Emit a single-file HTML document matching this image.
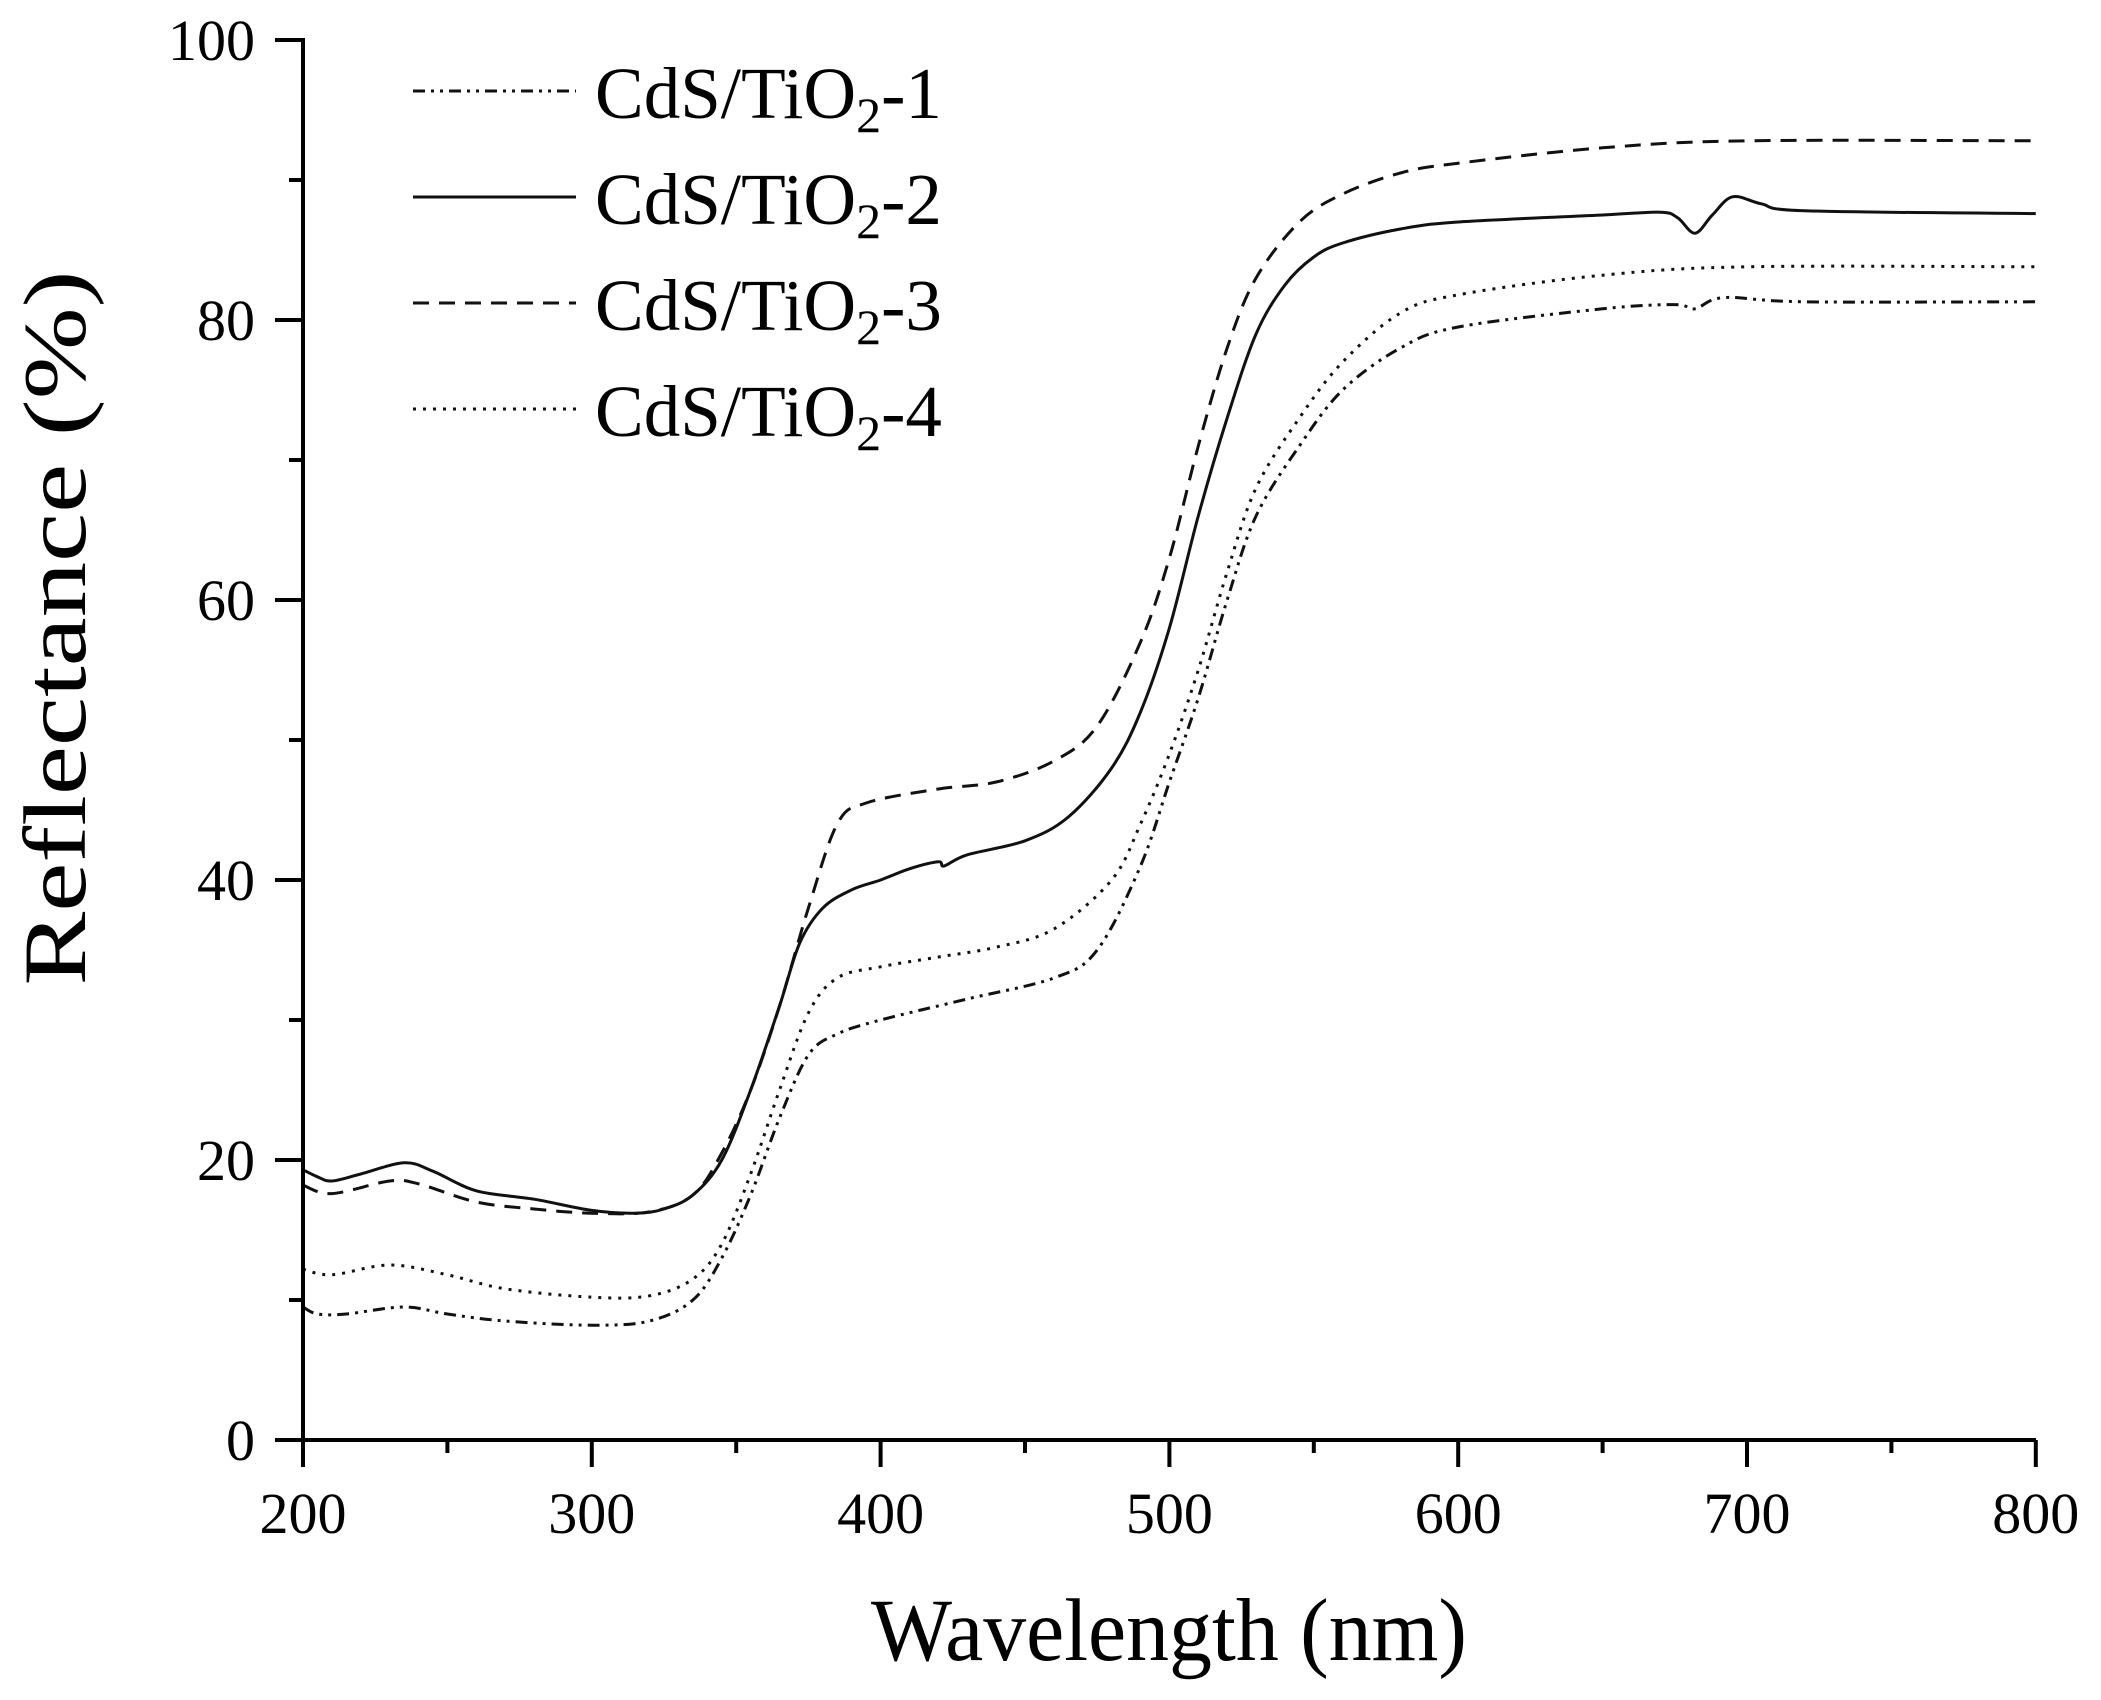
<!DOCTYPE html>
<html><head><meta charset="utf-8"><style>html,body{margin:0;padding:0;background:#fff}svg{display:block}</style></head>
<body>
<svg id="s" width="2101" height="1700" viewBox="0 0 2101 1700" xmlns="http://www.w3.org/2000/svg" font-family="Liberation Serif, serif">
<rect width="2101" height="1700" fill="#fff"/>
<g id="curves" fill="none" stroke="#111" stroke-width="3" stroke-linejoin="round"></g>
<g stroke="#000" stroke-width="4" fill="none">
<line x1="303" y1="38" x2="303" y2="1442"/>
<line x1="288" y1="1440" x2="2036" y2="1440"/>
<g id="ticks"></g>
</g>
<g font-size="58" fill="#000" text-anchor="middle" id="xl"></g>
<g font-size="58" fill="#000" text-anchor="end" id="yl"></g>
<text x="1169" y="1660" font-size="89" text-anchor="middle" textLength="596" lengthAdjust="spacingAndGlyphs">Wavelength (nm)</text>
<text transform="translate(85,628) rotate(-90)" font-size="89" text-anchor="middle" textLength="715" lengthAdjust="spacingAndGlyphs">Reflectance (%)</text>
<g font-size="73" fill="#000">
<text x="595" y="118">CdS/TiO<tspan font-size="50" dy="14">2</tspan><tspan dy="-14">-1</tspan></text>
<text x="595" y="224">CdS/TiO<tspan font-size="50" dy="14">2</tspan><tspan dy="-14">-2</tspan></text>
<text x="595" y="330">CdS/TiO<tspan font-size="50" dy="14">2</tspan><tspan dy="-14">-3</tspan></text>
<text x="595" y="436">CdS/TiO<tspan font-size="50" dy="14">2</tspan><tspan dy="-14">-4</tspan></text>
</g>
<g stroke="#111" stroke-width="3">
<line x1="413" y1="91" x2="576" y2="91" stroke-dasharray="12,6,3,6,3,6"/>
<line x1="413" y1="197" x2="576" y2="197"/>
<line x1="413" y1="303" x2="576" y2="303" stroke-dasharray="16,10"/>
<line x1="413" y1="409" x2="576" y2="409" stroke-dasharray="3,7"/>
</g>
</svg>
<script>
var NS="http://www.w3.org/2000/svg";
function X(w){return 303+(w-200)*2.888}
function Y(v){return 1440-14*v}
function el(p,t,a){var e=document.createElementNS(NS,t);for(var k in a)e.setAttribute(k,a[k]);document.getElementById(p).appendChild(e);return e}
for(var w=200;w<=800;w+=50){var maj=(w%100==0);el("ticks","line",{x1:X(w),y1:1440,x2:X(w),y2:1440+(maj?27:13)});
 if(maj){var t=el("xl","text",{x:X(w),y:1533});t.textContent=w;}}
for(var v=0;v<=100;v+=10){var maj=(v%20==0);el("ticks","line",{x1:303,y1:Y(v),x2:303-(maj?28:14),y2:Y(v)});
 if(maj){var t=el("yl","text",{x:255,y:Y(v)+20});t.textContent=v;}}
var S={
"1":[[200,9.5],[205,9],[215,9],[235,9.5],[250,9],[270,8.5],[300,8.2],[320,8.5],[335,10],[345,13],[355,17.5],[365,23],[375,27.5],[385,29],[400,30],[430,31.5],[460,33],[475,35],[490,41],[500,47],[510,53],[520,60],[530,66],[545,71],[560,75],[580,78],[600,79.5],[650,80.8],[675,81.1],[682,80.8],[692,81.6],[720,81.3],[800,81.3]],
"2":[[200,19.3],[205,18.8],[210,18.5],[220,19],[235,19.8],[245,19.2],[260,17.8],[280,17.2],[300,16.4],[315,16.2],[325,16.5],[335,17.5],[345,20],[355,25],[365,31],[372,35.5],[380,38],[390,39.3],[400,40],[410,40.8],[420,41.3],[422,41],[430,41.8],[450,42.8],[465,44.5],[480,48],[490,52],[500,58],[510,66],[520,73],[530,79],[540,82.5],[550,84.5],[560,85.5],[580,86.5],[600,87],[650,87.5],[670,87.7],[676,87.3],[682,86.2],[688,87.5],[695,88.8],[705,88.3],[720,87.8],[800,87.6]],
"3":[[200,18.2],[210,17.6],[230,18.5],[240,18.3],[260,17],[280,16.5],[300,16.2],[320,16.3],[335,17.5],[345,20.5],[355,25],[365,31],[375,38],[385,44],[395,45.5],[420,46.5],[440,47],[460,48.5],[475,51],[490,57],[500,63],[510,71],[520,78],[530,83],[545,87],[560,89],[580,90.5],[600,91.2],[650,92.3],[700,92.8],[800,92.8]],
"4":[[200,12.2],[210,11.8],[230,12.5],[250,11.8],[270,10.8],[300,10.2],[320,10.3],[335,11.5],[345,14],[355,19],[365,25],[375,30.5],[385,33],[400,33.8],[420,34.5],[440,35.2],[460,36.5],[480,40],[490,44],[500,49],[510,55],[520,62],[530,68],[545,73],[560,77],[580,80.5],[600,81.8],[650,83.2],[700,83.8],[800,83.8]]};
var D={"1":"12,6,3,6,3,6","2":"","3":"16,10","4":"3,7"};
for(var k in S){var p=S[k],d="M"+X(p[0][0])+","+Y(p[0][1]);
 for(var i=0;i<p.length-1;i++){var p0=p[Math.max(i-1,0)],p1=p[i],p2=p[i+1],p3=p[Math.min(i+2,p.length-1)];
  var c1x=X(p1[0])+(X(p2[0])-X(p0[0]))/6,c1y=Y(p1[1])+(Y(p2[1])-Y(p0[1]))/6,c2x=X(p2[0])-(X(p3[0])-X(p1[0]))/6,c2y=Y(p2[1])-(Y(p3[1])-Y(p1[1]))/6;
  d+=" C"+c1x+","+c1y+" "+c2x+","+c2y+" "+X(p2[0])+","+Y(p2[1]);}
 var a={d:d};if(D[k])a["stroke-dasharray"]=D[k];el("curves","path",a);}
</script>
</body></html>
